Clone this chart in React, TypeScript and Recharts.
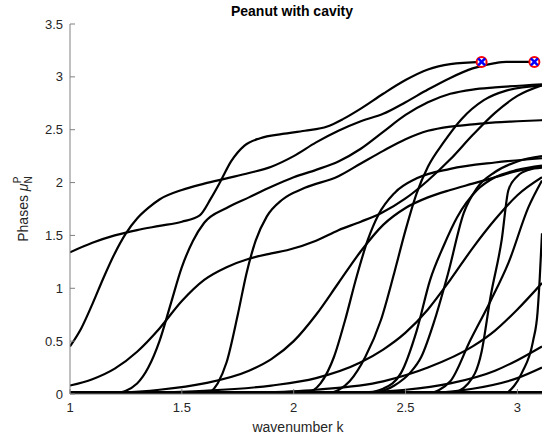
import { ComposedChart, Line, Scatter, XAxis, YAxis } from 'recharts';

// Each curve is a list of [wavenumber k, phase] samples.
const curveA = [
  [1, 1.34], [1.1, 1.43], [1.2, 1.5], [1.3, 1.55], [1.4, 1.59], [1.5, 1.63], [1.58, 1.69],
  [1.63, 1.85], [1.67, 2.0], [1.72, 2.2], [1.78, 2.35], [1.85, 2.42], [1.95, 2.46], [2.05, 2.49],
  [2.15, 2.53], [2.22, 2.6], [2.3, 2.7], [2.4, 2.84], [2.5, 2.97], [2.6, 3.07], [2.7, 3.12],
  [2.84, 3.1416],
];
const curveB = [
  [1, 0.45], [1.05, 0.62], [1.1, 0.85], [1.15, 1.1], [1.2, 1.33], [1.25, 1.52], [1.3, 1.66],
  [1.35, 1.76], [1.4, 1.84], [1.5, 1.93], [1.6, 1.99], [1.7, 2.04], [1.8, 2.09], [1.9, 2.15],
  [2.0, 2.25], [2.1, 2.38], [2.2, 2.49], [2.3, 2.58], [2.4, 2.65], [2.5, 2.76], [2.6, 2.88],
  [2.7, 2.99], [2.8, 3.08], [2.9, 3.13], [2.95, 3.1416], [3.076, 3.1416],
];
const curveC = [
  [1, 0.08], [1.1, 0.14], [1.2, 0.24], [1.3, 0.4], [1.4, 0.62], [1.5, 0.88], [1.6, 1.08],
  [1.7, 1.2], [1.8, 1.28], [1.9, 1.33], [1.97, 1.36], [2.1, 1.45], [2.2, 1.55], [2.3, 1.63],
  [2.39, 1.71], [2.5, 1.85], [2.6, 2.02], [2.7, 2.22], [2.8, 2.45], [2.9, 2.66], [3.0, 2.82],
  [3.11, 2.92],
];
const curveD = [
  [1.2, 0.0], [1.3, 0.1], [1.35, 0.25], [1.4, 0.5], [1.45, 0.85], [1.5, 1.2], [1.55, 1.45],
  [1.6, 1.62], [1.7, 1.76], [1.8, 1.86], [1.9, 1.96], [2.0, 2.05], [2.1, 2.12], [2.2, 2.2],
  [2.3, 2.32], [2.4, 2.48], [2.5, 2.64], [2.6, 2.76], [2.7, 2.84], [2.8, 2.88], [2.9, 2.9],
  [3.11, 2.93],
];
const curveE = [
  [1.62, 0.0], [1.66, 0.1], [1.7, 0.3], [1.75, 0.75], [1.79, 1.15], [1.83, 1.45], [1.88, 1.68],
  [1.95, 1.84], [2.05, 1.95], [2.2, 2.06], [2.3, 2.18], [2.4, 2.3], [2.5, 2.41], [2.6, 2.49],
  [2.7, 2.53], [2.8, 2.55], [2.9, 2.57], [3.0, 2.58], [3.11, 2.59],
];
const curveF = [
  [1, 0.0], [1.2, 0.01], [1.4, 0.04], [1.6, 0.1], [1.8, 0.22], [1.9, 0.33], [2.0, 0.5],
  [2.1, 0.75], [2.2, 1.05], [2.3, 1.35], [2.4, 1.6], [2.5, 1.76], [2.6, 1.86], [2.7, 1.93],
  [2.8, 1.99], [2.9, 2.05], [3.0, 2.11], [3.11, 2.15],
];
const curveG = [
  [2.15, 0.0], [2.25, 0.12], [2.32, 0.35], [2.39, 0.7], [2.45, 1.15], [2.5, 1.55], [2.55, 1.9],
  [2.6, 2.15], [2.67, 2.38], [2.75, 2.6], [2.85, 2.78], [2.95, 2.87], [3.11, 2.92],
];
const curveH = [
  [2.3, 0.0], [2.4, 0.05], [2.48, 0.2], [2.55, 0.6], [2.61, 1.08], [2.67, 1.4], [2.73, 1.67],
  [2.82, 1.93], [2.9, 2.05], [3.0, 2.12], [3.11, 2.16],
];
const curveI = [
  [2.35, 0.0], [2.45, 0.08], [2.52, 0.2], [2.57, 0.35], [2.63, 0.7], [2.69, 1.14], [2.76, 1.71],
  [2.82, 1.95], [2.9, 2.1], [3.0, 2.2], [3.11, 2.25],
];
const curveJ = [
  [2.7, 0.0], [2.78, 0.1], [2.84, 0.4], [2.88, 0.92], [2.93, 1.46], [2.96, 1.93], [3.0, 2.06],
  [3.05, 2.12], [3.11, 2.14],
];
const curveK = [
  [2.6, 0.0], [2.7, 0.12], [2.79, 0.51], [2.88, 0.88], [2.96, 1.24], [3.05, 1.77], [3.11, 2.02],
];
const curveL = [[2.95, 0.0], [3.02, 0.2], [3.07, 0.5], [3.09, 0.77], [3.1, 1.1], [3.11, 1.52]];
const curveM = [
  [1, 0.0], [1.3, 0.01], [1.6, 0.03], [1.9, 0.08], [2.1, 0.15], [2.3, 0.3], [2.4, 0.42],
  [2.5, 0.58], [2.6, 0.8], [2.7, 1.08], [2.8, 1.38], [2.9, 1.65], [3.0, 1.88], [3.11, 2.05],
];
const curveN = [
  [1.5, 0.0], [1.8, 0.01], [2.1, 0.04], [2.4, 0.12], [2.6, 0.25], [2.8, 0.45], [2.9, 0.6],
  [3.0, 0.8], [3.11, 1.05],
];
const curveO = [[1.8, 0.0], [2.2, 0.01], [2.5, 0.04], [2.7, 0.1], [2.9, 0.22], [3.0, 0.32], [3.11, 0.45]];
const curveP = [[2.3, 0.0], [2.6, 0.01], [2.8, 0.05], [3.0, 0.15], [3.11, 0.25]];
const curveQ = [
  [2.05, 0.0], [2.12, 0.1], [2.18, 0.35], [2.23, 0.7], [2.28, 1.1], [2.33, 1.45], [2.38, 1.7],
  [2.45, 1.9], [2.55, 2.04], [2.7, 2.13], [2.9, 2.19], [3.11, 2.23],
];
const curveZero = [[1, 0.0], [3.11, 0.0]];

const curves = [
  curveA, curveB, curveC, curveD, curveE, curveF, curveG, curveH, curveI,
  curveJ, curveK, curveL, curveM, curveN, curveO, curveP, curveQ,
];

// phase reaches pi here
const wrapPoints = [{ k: 2.84, p: 3.1416 }, { k: 3.076, p: 3.1416 }];

const xTicks = [1, 1.5, 2, 2.5, 3];
const yTicks = [0, 0.5, 1, 1.5, 2, 2.5, 3, 3.5];

const FONT = '"Liberation Sans", Arial, sans-serif';
const TICK_COLOR = '#262626';
const AXIS_COLOR = '#808080';

const toRows = (pts: number[][]) => pts.map(([k, p]) => ({ k, p }));

function YTick({ x, y, payload }: any) {
  const axisX = x + 8;
  return (
    <g>
      <line x1={axisX} x2={axisX + 5} y1={y} y2={y} stroke={AXIS_COLOR} strokeWidth={1} />
      <text x={axisX - 7} y={y + 4.5} textAnchor="end" fontSize={13} fill={TICK_COLOR} fontFamily={FONT}>
        {payload.value}
      </text>
    </g>
  );
}

function XTick({ x, y, payload }: any) {
  const axisY = y - 8;
  return (
    <g>
      <line x1={x} x2={x} y1={axisY} y2={axisY - 5} stroke={AXIS_COLOR} strokeWidth={1} />
      <text x={x} y={axisY + 18} textAnchor="middle" fontSize={13} fill={TICK_COLOR} fontFamily={FONT}>
        {payload.value}
      </text>
    </g>
  );
}

function WrapMarker({ cx, cy }: any) {
  return (
    <g>
      <circle cx={cx} cy={cy} r={5} fill="#ffffff" stroke="#ff0000" strokeWidth={2} />
      <line x1={cx - 3.5} y1={cy - 3.5} x2={cx + 3.5} y2={cy + 3.5} stroke="#0000ff" strokeWidth={2.5} />
      <line x1={cx - 3.5} y1={cy + 3.5} x2={cx + 3.5} y2={cy - 3.5} stroke="#0000ff" strokeWidth={2.5} />
    </g>
  );
}

export default function App() {
  return (
    <div style={{ position: 'absolute', left: 0, top: 0, background: '#fff' }}>
      <ComposedChart width={544} height={439} margin={{ top: 24, right: 2, bottom: 0, left: 10 }}>
        <XAxis
          type="number"
          dataKey="k"
          domain={[1, 3.11]}
          ticks={xTicks}
          allowDataOverflow
          height={45}
          tickLine={false}
          stroke={AXIS_COLOR}
          tick={<XTick />}
        />
        <YAxis
          type="number"
          dataKey="p"
          domain={[0, 3.5]}
          ticks={yTicks}
          allowDataOverflow
          width={60}
          tickLine={false}
          stroke={AXIS_COLOR}
          tick={<YTick />}
        />
        <Line
          data={toRows(curveZero)}
          dataKey="p"
          stroke="#000"
          strokeWidth={6}
          dot={false}
          isAnimationActive={false}
        />
        {curves.map((c, i) => (
          <Line
            key={i}
            data={toRows(c)}
            dataKey="p"
            type="monotone"
            stroke="#000"
            strokeWidth={2.2}
            dot={false}
            isAnimationActive={false}
          />
        ))}
        <Scatter data={wrapPoints} dataKey="p" shape={<WrapMarker />} isAnimationActive={false} />
        <text x={292} y={16} textAnchor="middle" fontSize={14} fontWeight="bold" fontFamily={FONT} fill="#000">
          Peanut with cavity
        </text>
        <text x={298} y={432} textAnchor="middle" fontSize={14} fontFamily={FONT} fill={TICK_COLOR}>
          wavenumber k
        </text>
        <text
          transform="translate(28, 209) rotate(-90)"
          textAnchor="middle"
          fontSize={14}
          fontFamily={FONT}
          fill={TICK_COLOR}
        >
          Phases{'  '}
          <tspan fontStyle="italic">μ</tspan>
          <tspan fontSize={10} dy={4}>N</tspan>
          <tspan fontSize={10} dx={-7} dy={-11}>P</tspan>
        </text>
      </ComposedChart>
    </div>
  );
}
